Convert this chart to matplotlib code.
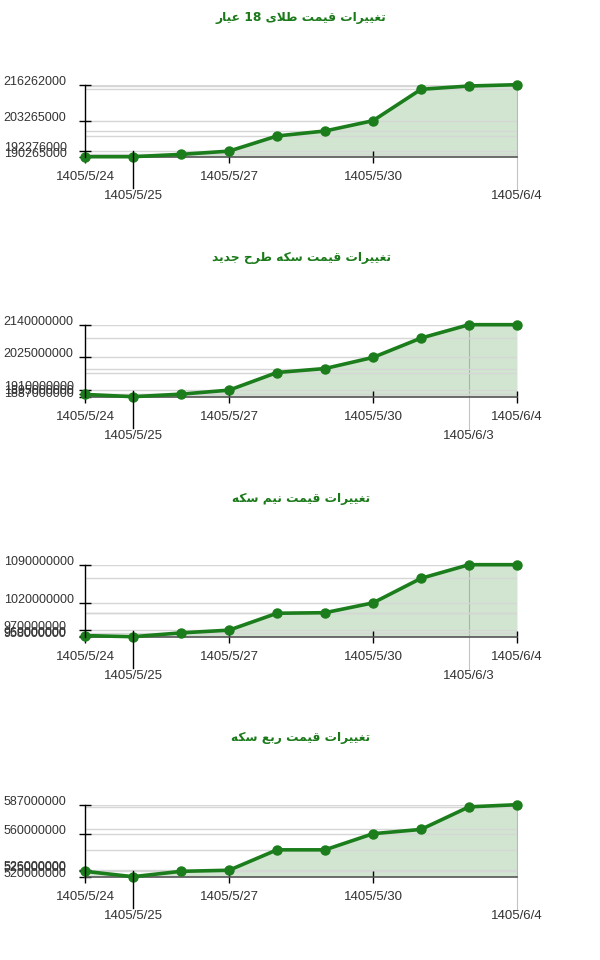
import numpy as np
import matplotlib
matplotlib.use('Agg')
import matplotlib.pyplot as plt

plt.rcParams['font.family'] = ['Liberation Sans', 'DejaVu Sans']

# ---------------- data ----------------
dates = ['1405/5/24', '1405/5/25', '1405/5/26', '1405/5/27', '1405/5/28',
         '1405/5/29', '1405/5/30', '1405/5/31', '1405/6/3', '1405/6/4']

titles = ['تغییرات قیمت طلای 18 عیار',
          'تغییرات قیمت سکه طرح جدید',
          'تغییرات قیمت نیم سکه',
          'تغییرات قیمت ربع سکه']

gold18 = [190265000, 190265000, 191100000, 192276000, 197740000,
          199550000, 203265000, 214600000, 215790000, 216262000]
coin_new = [1895000000, 1887000000, 1896000000, 1910000000, 1972000000,
            1986000000, 2025000000, 2093000000, 2140000000, 2140000000]
coin_half = [960000000, 958000000, 965000000, 970000000, 1001000000,
             1002000000, 1020000000, 1065000000, 1090000000, 1090000000]
coin_quarter = [525000000, 520000000, 525000000, 526000000, 545000000,
                545000000, 560000000, 564000000, 585000000, 587000000]

series = [gold18, coin_new, coin_half, coin_quarter]
label_idx = [0, 3, 6, 9]

# ---------- minimal Persian shaping (presentation forms, visual order) ----------
FORMS = {  # isolated, final, initial, medial
    'ا': ('\uFE8D', '\uFE8E', None, None),
    'ب': ('\uFE8F', '\uFE90', '\uFE91', '\uFE92'),
    'ت': ('\uFE95', '\uFE96', '\uFE97', '\uFE98'),
    'ج': ('\uFE9D', '\uFE9E', '\uFE9F', '\uFEA0'),
    'ح': ('\uFEA1', '\uFEA2', '\uFEA3', '\uFEA4'),
    'د': ('\uFEA9', '\uFEAA', None, None),
    'ر': ('\uFEAD', '\uFEAE', None, None),
    'س': ('\uFEB1', '\uFEB2', '\uFEB3', '\uFEB4'),
    'ط': ('\uFEC1', '\uFEC2', '\uFEC3', '\uFEC4'),
    'ع': ('\uFEC9', '\uFECA', '\uFECB', '\uFECC'),
    'غ': ('\uFECD', '\uFECE', '\uFECF', '\uFED0'),
    'ق': ('\uFED5', '\uFED6', '\uFED7', '\uFED8'),
    'ل': ('\uFEDD', '\uFEDE', '\uFEDF', '\uFEE0'),
    'م': ('\uFEE1', '\uFEE2', '\uFEE3', '\uFEE4'),
    'ن': ('\uFEE5', '\uFEE6', '\uFEE7', '\uFEE8'),
    'ه': ('\uFEE9', '\uFEEA', '\uFEEB', '\uFEEC'),
    'ی': ('\uFBFC', '\uFBFD', '\uFBFE', '\uFBFF'),
    'ک': ('\uFB8E', '\uFB8F', '\uFB90', '\uFB91'),
}


def _dual(c):
    return c in FORMS and FORMS[c][2] is not None


def shape(text):
    chars = list(text)
    n = len(chars)
    out = []
    i = 0
    while i < n:
        c = chars[i]
        if c not in FORMS:
            out.append(c)
            i += 1
            continue
        prev = chars[i - 1] if i > 0 else None
        jp = prev is not None and _dual(prev)
        if c == 'ل' and i + 1 < n and chars[i + 1] == 'ا':
            out.append('\uFEFC' if jp else '\uFEFB')
            i += 2
            continue
        nxt = chars[i + 1] if i + 1 < n else None
        jn = _dual(c) and nxt in FORMS
        iso, fin, ini, med = FORMS[c]
        if jp and jn:
            out.append(med)
        elif jp:
            out.append(fin)
        elif jn:
            out.append(ini)
        else:
            out.append(iso)
        i += 1
    vis = out[::-1]
    res = []
    j = 0
    while j < len(vis):
        if vis[j].isdigit():
            k = j
            while k < len(vis) and vis[k].isdigit():
                k += 1
            res.extend(vis[j:k][::-1])
            j = k
        else:
            res.append(vis[j])
            j += 1
    return ''.join(res)


# ---------------- figure ----------------
W, H = 600, 960
fig = plt.figure(figsize=(W / 100, H / 100), dpi=100)
x = np.arange(len(dates))
LINE = '#1b7d1b'
TXT = '#333333'

for k, (title, vals) in enumerate(zip(titles, series)):
    vals = np.asarray(vals, dtype=float)
    top_px = 84.7 + 240 * k
    bot_px = 156.7 + 240 * k
    hpx = bot_px - top_px
    ax = fig.add_axes([85 / W, 1 - bot_px / H, 432 / W, hpx / H])
    vmin, vmax = vals.min(), vals.max()
    imin = len(vals) - 1 - int(np.argmin(vals[::-1]))
    imax = int(np.argmax(vals))

    ax.set_xlim(0, len(dates) - 1)
    ax.set_ylim(vmin, vmax)
    ax.set_facecolor('none')

    ax.fill_between(x, vals, vmin, color='#2e8b2e', alpha=0.22, lw=0, zorder=1)
    for v in np.unique(vals):
        ax.axhline(v, color='#d6d6d6', lw=1, zorder=1.5)
    ax.plot(x, vals, color=LINE, lw=2.6, marker='o', ms=6.5,
            clip_on=False, zorder=4)

    # spines
    for s in ('top', 'right'):
        ax.spines[s].set_visible(False)
    ax.spines['left'].set_color('black')
    ax.spines['left'].set_linewidth(1)
    ax.spines['bottom'].set_color('#555555')
    ax.spines['bottom'].set_linewidth(1.2)
    ax.spines['left'].set_zorder(5)

    # y ticks (labels left-aligned at the figure's left margin)
    yt = sorted(set([vals[i] for i in label_idx] + [vmin, vmax]))
    ax.set_yticks(yt, [f'{int(v)}' for v in yt])
    ax.tick_params(axis='y', direction='inout', length=9, width=1,
                   color='black', labelsize=9, labelcolor=TXT, pad=54)
    for lbl in ax.get_yticklabels():
        lbl.set_va('baseline')
        lbl.set_ha('left')

    # x ticks
    major = [i for i in label_idx if i not in (imin, imax)]
    ax.set_xticks(major, [dates[i] for i in major])
    minor = sorted(set([imin, imax]))
    ax.set_xticks(minor, [dates[i] for i in minor], minor=True)
    ax.tick_params(axis='x', which='major', direction='inout', length=8,
                   width=1, color='black', labelsize=9.5,
                   labelcolor=TXT, pad=6)
    ax.tick_params(axis='x', which='minor', length=0, labelsize=9.5,
                   labelcolor=TXT, pad=24)

    # min / max markers
    ax.axvline(imin, ymin=-31 / hpx, ymax=6 / hpx, color='black', lw=1,
               clip_on=False, zorder=5)
    ax.axvline(imax, ymin=-33 / hpx, ymax=1, color='#c4c4c4', lw=0.8,
               clip_on=False, zorder=0.5)

    # title
    fig.text(301 / W, 1 - (18 + 240 * k) / H, shape(title),
             ha='center', va='center', fontsize=8.8, fontweight='bold',
             color='#1a7a1a', family=['DejaVu Sans'])

fig.savefig('out.png', dpi=100)
